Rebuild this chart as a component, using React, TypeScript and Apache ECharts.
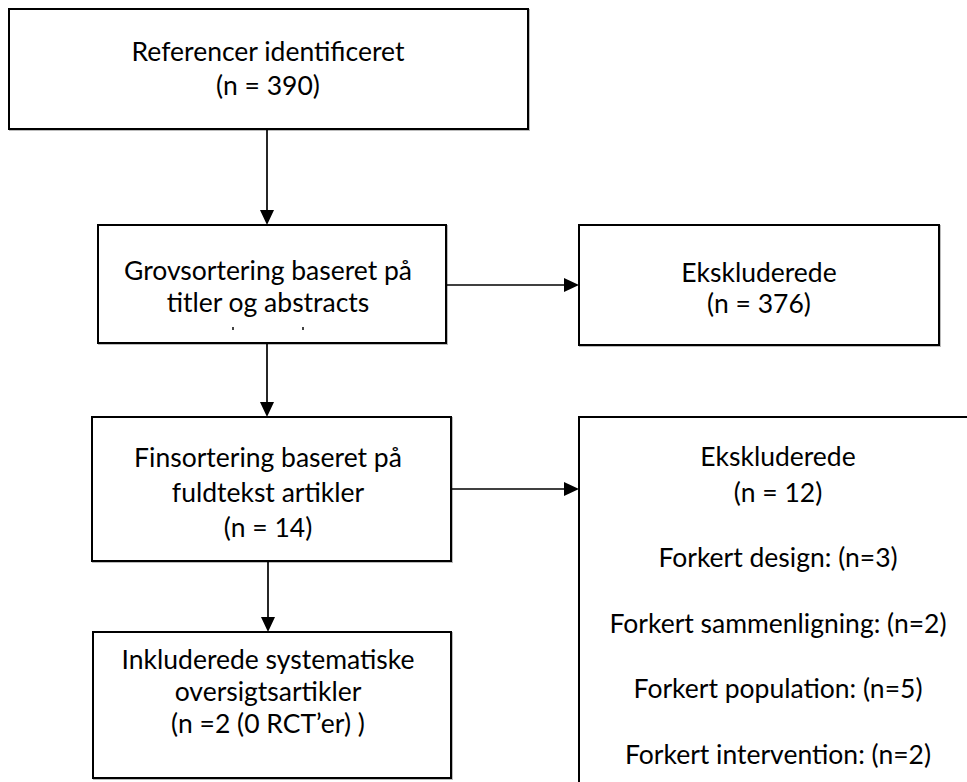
import React, { useEffect, useRef } from "react";
import * as echarts from "echarts";

// ---- data ----
const stageTitles: string[][] = [
  ["Referencer identificeret"],
  ["Grovsortering baseret på", "titler og abstracts"],
  ["Finsortering baseret på", "fuldtekst artikler"],
  ["Inkluderede systematiske", "oversigtsartikler"],
];
const stageCounts: string[] = ["(n = 390)", "", "(n = 14)", "(n =2 (0 RCT’er) )"];
const excludedTitle = "Ekskluderede";
const excludedCounts: number[] = [376, 12];
const exclusionReasons: string[] = [
  "Forkert design",
  "Forkert sammenligning",
  "Forkert population",
  "Forkert intervention",
];
const exclusionReasonCounts: number[] = [3, 2, 5, 2];

// ---- layout (positions only) ----
const FONT_FAMILY = "Lato, 'Open Sans', sans-serif";
const FONT_SIZE = 26.5;
const LINE_H = 34;

type Box = { x: number; y: number; w: number; h: number; cx: number; lines: string[]; y0: number; lh: number };

function buildBoxes(): Box[] {
  const b1 = { x: 9, y: 9, w: 519, h: 120, cx: 268, lines: [...stageTitles[0], stageCounts[0]], y0: 51, lh: LINE_H };
  const b2 = { x: 98, y: 225, w: 348, h: 118, cx: 268, lines: [...stageTitles[1]], y0: 270, lh: 32 };
  const b3 = { x: 579, y: 225, w: 360, h: 120, cx: 759, lines: [excludedTitle, `(n = ${excludedCounts[0]})`], y0: 272, lh: 31 };
  const b4 = { x: 92, y: 417, w: 359, h: 144, cx: 268, lines: [...stageTitles[2], stageCounts[2]], y0: 457, lh: 35 };
  const b5 = { x: 93, y: 632, w: 358, h: 146, cx: 268, lines: [...stageTitles[3], stageCounts[3]], y0: 659, lh: 32 };
  const b6lines = [excludedTitle, `(n = ${excludedCounts[1]})`];
  const b6 = { x: 579, y: 417, w: 420, h: 420, cx: 778, lines: b6lines, y0: 456, lh: 36 };
  return [b1, b2, b3, b4, b5, b6];
}

function textEl(t: string, x: number, y: number) {
  return {
    type: "text",
    z: 10,
    style: {
      text: t,
      x,
      y,
      fill: "#000",
      fontSize: FONT_SIZE,
      fontFamily: FONT_FAMILY,
      align: "center",
      verticalAlign: "middle",
    },
  };
}

function arrowV(x: number, y1: number, y2: number) {
  return [
    { type: "line", z: 5, shape: { x1: x, y1, x2: x, y2: y2 - 12 }, style: { stroke: "#000", lineWidth: 1.7 } },
    { type: "polygon", z: 5, shape: { points: [[x - 7, y2 - 15], [x + 7, y2 - 15], [x, y2]] }, style: { fill: "#000" } },
  ];
}
function arrowH(y: number, x1: number, x2: number) {
  return [
    { type: "line", z: 5, shape: { x1, y1: y, x2: x2 - 12, y2: y }, style: { stroke: "#000", lineWidth: 1.7 } },
    { type: "polygon", z: 5, shape: { points: [[x2 - 15, y - 7], [x2 - 15, y + 7], [x2, y]] }, style: { fill: "#000" } },
  ];
}

export default function App() {
  const ref = useRef<HTMLDivElement>(null);
  useEffect(() => {
    if (!ref.current) return;
    const chart = echarts.init(ref.current, undefined, { renderer: "svg" });
    const boxes = buildBoxes();
    const elements: any[] = [];
    boxes.forEach((b) => {
      elements.push({
        type: "rect",
        z: 2,
        shape: { x: b.x + 1, y: b.y + 1, width: b.w, height: b.h },
        style: { fill: "none", stroke: "#bbb", lineWidth: 2 },
      });
      elements.push({
        type: "rect",
        z: 3,
        shape: { x: b.x, y: b.y, width: b.w, height: b.h },
        style: { fill: "#fff", stroke: "#000", lineWidth: 2 },
      });
      b.lines.forEach((l, i) => elements.push(textEl(l, b.cx, b.y0 + i * b.lh)));
    });
    // exclusion reasons in the last box
    const b6 = boxes[5];
    exclusionReasons.forEach((r, i) => {
      elements.push(textEl(`${r}: (n=${exclusionReasonCounts[i]})`, b6.cx, 557 + i * 65.5));
    });
    // clipped third line remnants in box 2
    elements.push({ type: "rect", z: 10, shape: { x: 232, y: 327, width: 2, height: 3 }, style: { fill: "#444" } });
    elements.push({ type: "rect", z: 10, shape: { x: 302, y: 327, width: 2, height: 3 }, style: { fill: "#444" } });

    elements.push(...arrowV(267, 129, 225));
    elements.push(...arrowV(267, 343, 417));
    elements.push(...arrowV(268, 561, 632));
    elements.push(...arrowH(285, 446, 579));
    elements.push(...arrowH(489, 451, 579));

    chart.setOption({
      animation: false,
      backgroundColor: "#fff",
      graphic: { elements },
    });
    return () => chart.dispose();
  }, []);
  return (
    <div
      ref={ref}
      style={{ position: "fixed", left: 0, top: 0, width: 967, height: 782, background: "#fff" }}
    />
  );
}
